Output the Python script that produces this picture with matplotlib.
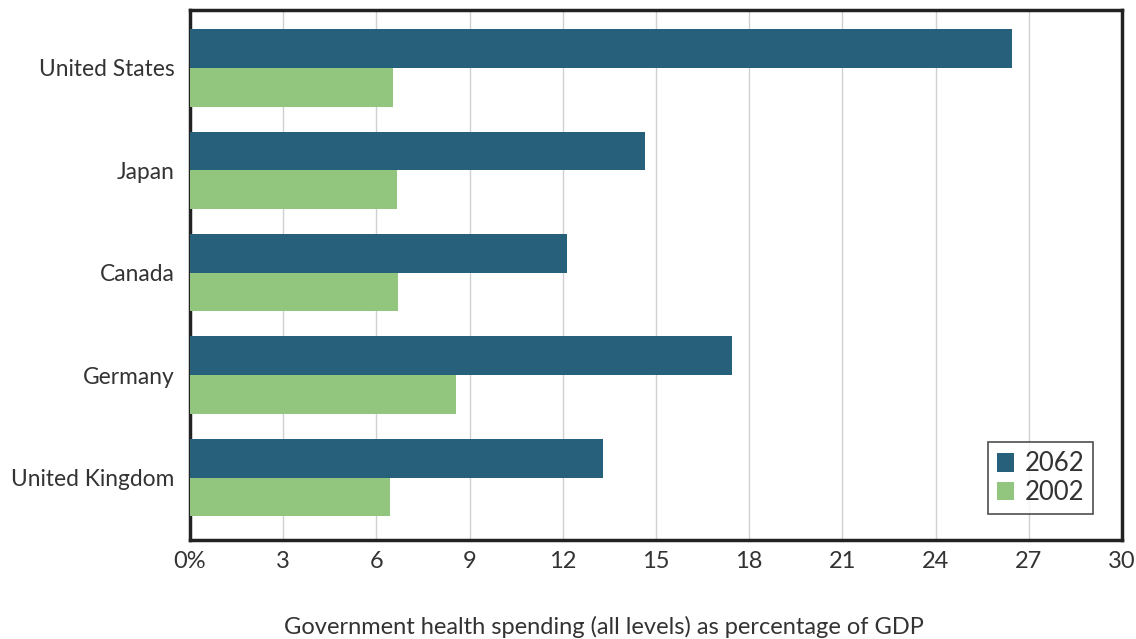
import matplotlib
matplotlib.use("Agg")
import matplotlib.pyplot as plt
import numpy as np

countries = ["United States", "Japan", "Canada", "Germany", "United Kingdom"]
v2062 = [26.45, 14.65, 12.15, 17.45, 13.3]
v2002 = [6.55, 6.65, 6.7, 8.55, 6.45]
xticks = [0, 3, 6, 9, 12, 15, 18, 21, 24, 27, 30]
xticklabels = ["0%", "3", "6", "9", "12", "15", "18", "21", "24", "27", "30"]

c_dark = "#27607A"
c_green = "#92C67F"
txt = "#333333"

plt.rcParams['font.family'] = ['Lato', 'DejaVu Sans']

fig = plt.figure(figsize=(11.36, 6.39), dpi=100)
ax = fig.add_axes([190/1136, 99/639, 932/1136, 530/639])

y = np.arange(len(countries))
h = 0.378
ax.barh(y - h/2, v2062, height=h, color=c_dark, label="2062", zorder=3)
ax.barh(y + h/2, v2002, height=h, color=c_green, label="2002", zorder=3)

ax.set_xlim(0, 30)
ax.set_ylim(4.61, -0.566)
ax.set_xticks(xticks)
ax.set_xticklabels(xticklabels, fontsize=17, color=txt)
ax.set_yticks(y)
ax.set_yticklabels(countries, fontsize=16.4, color=txt)
ax.tick_params(axis="y", length=0, pad=11)
ax.tick_params(axis="x", length=0, pad=8)
ax.xaxis.grid(True, color="#d0d0d0", linewidth=1.0, zorder=0)
for s in ax.spines.values():
    s.set_linewidth(2.5)
    s.set_color("#222222")

fig.text(604/1136, 1 - 627/639,
         "Government health spending (all levels) as percentage of GDP",
         fontsize=17, color=txt, ha="center", va="center")

leg = ax.legend(loc="lower right", bbox_to_anchor=(1093/1136, 125/639),
                bbox_transform=fig.transFigure, fontsize=18.5, frameon=True,
                fancybox=False, edgecolor="#222222", handlelength=0.65,
                handleheight=0.75, handletextpad=0.4, borderpad=0.35,
                labelspacing=0.15, labelcolor=txt, borderaxespad=0)
leg.get_frame().set_linewidth(1.2)

fig.savefig("out.png", dpi=100)
